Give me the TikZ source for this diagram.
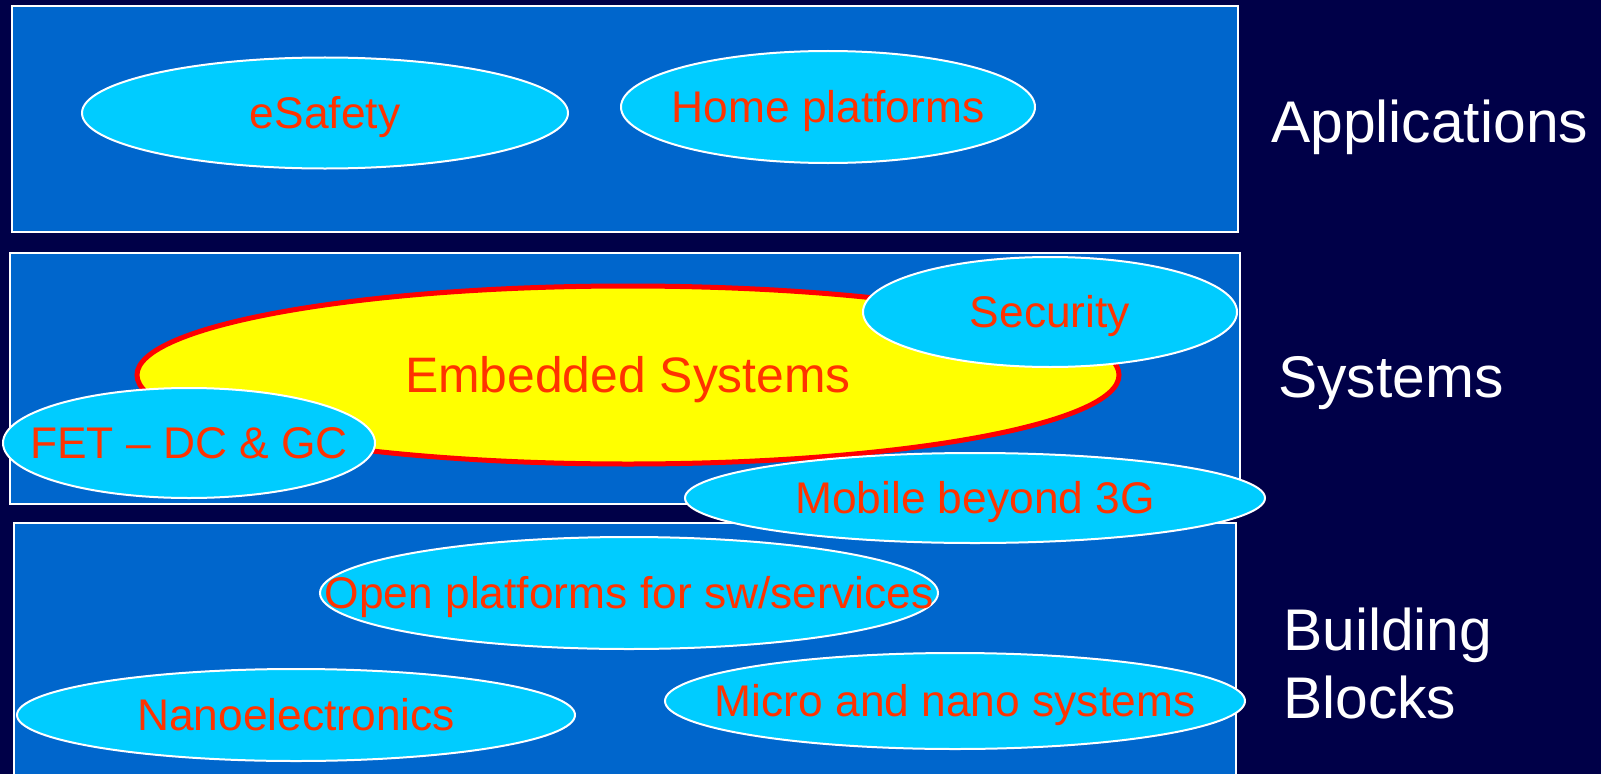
\documentclass[tikz,border=0pt]{standalone}
\usepackage{fontspec}
\setmainfont{Liberation Sans}
\usetikzlibrary{shapes.geometric}
\definecolor{navybg}{RGB}{0,0,72}
\definecolor{boxblue}{RGB}{0,102,204}
\definecolor{cyanfill}{RGB}{0,204,255}
\definecolor{txtred}{RGB}{255,51,0}
\definecolor{coreyellow}{RGB}{255,255,0}
\definecolor{corered}{RGB}{255,0,0}
\begin{document}
\begin{tikzpicture}[x=1bp,y=-1bp,
  layerbox/.style={draw=white, line width=1.6bp, fill=boxblue},
  topic/.style={ellipse, draw=white, line width=2bp, fill=cyanfill, inner sep=0pt},
  coretopic/.style={topic, fill=coreyellow, draw=corered, line width=5bp},
  topictext/.style={inner sep=0pt, text=txtred, font=\fontsize{44.5}{50}\selectfont,
    text height=31.9bp, text depth=0pt},
  coretext/.style={topictext, font=\fontsize{50}{56}\selectfont, text height=35.8bp},
  layerlabel/.style={text=white, font=\fontsize{59}{67.5}\selectfont, inner sep=0pt, anchor=base west, align=left}
]
\useasboundingbox (0,0) rectangle (1601,774);
\fill[navybg] (0,0) rectangle (1601,774);

% layers
\draw[layerbox] (12,6) rectangle (1238,232);
\draw[layerbox] (10,253) rectangle (1240,504);
\draw[layerbox] (14,523) rectangle (1236,800);

% applications
\node[topic, minimum width=486bp, minimum height=111bp] (esafety) at (325,113) {};
\node[topictext] at (esafety) {eSafety};
\node[topic, minimum width=414bp, minimum height=112bp] (home) at (828,107) {};
\node[topictext] at (home) {Home platforms};

% systems
\node[coretopic, minimum width=982bp, minimum height=178bp] (embedded) at (628,375) {};
\node[coretext] at (embedded) {Embedded Systems};
\node[topic, minimum width=374bp, minimum height=110bp] (security) at (1050,312) {};
\node[topictext] at (security) {Security};
\node[topic, minimum width=372bp, minimum height=110bp] (fet) at (189,443) {};
\node[topictext] at (fet) {FET – DC \& GC};
\node[topic, minimum width=580bp, minimum height=90bp] (mobile) at (975,498) {};
\node[topictext] at (mobile) {Mobile beyond 3G};

% building blocks
\node[topic, minimum width=618bp, minimum height=112bp] (open) at (629,593) {};
\node[topictext] at (open) {Open platforms for sw/services};
\node[topic, minimum width=558bp, minimum height=92bp] (nano) at (296,715) {};
\node[topictext] at (nano) {Nanoelectronics};
\node[topic, minimum width=580bp, minimum height=96bp] (micro) at (955,701) {};
\node[topictext] at (micro) {Micro and nano systems};

% layer labels
\node[layerlabel] (applications) at (1271,142) {Applications};
\node[layerlabel] (systems) at (1278,397) {Systems};
\node[layerlabel] (building) at (1283,718) {Building\\Blocks};
\end{tikzpicture}
\end{document}
